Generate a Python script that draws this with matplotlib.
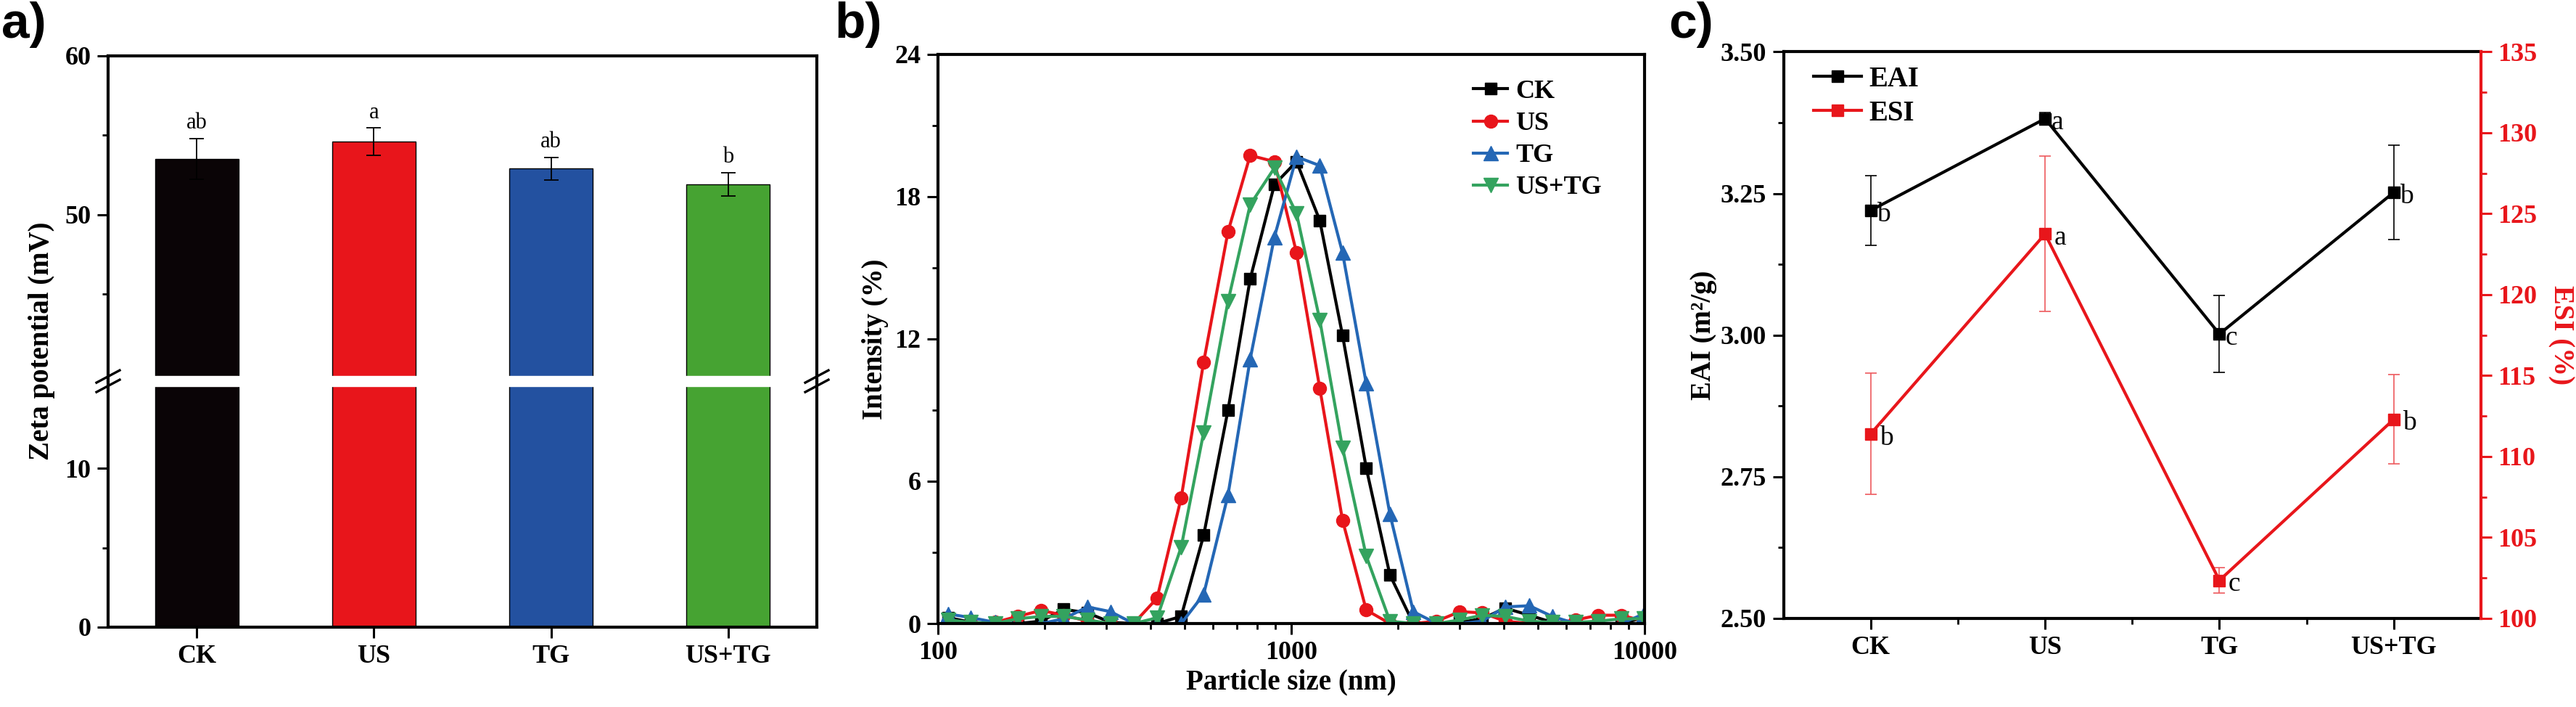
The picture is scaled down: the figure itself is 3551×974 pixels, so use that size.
"""
Zeta potential, particle size distribution and emulsifying properties (3 panels).
"""

import matplotlib
matplotlib.use("Agg")
import matplotlib.pyplot as plt
from matplotlib.lines import Line2D
from matplotlib.ticker import FixedLocator, FixedFormatter, LogLocator, NullFormatter, MultipleLocator, FormatStrFormatter

plt.rcParams["font.family"] = ["Liberation Serif", "DejaVu Serif"]
plt.rcParams["font.weight"] = "bold"
plt.rcParams["axes.labelweight"] = "bold"

groups = ["CK", "US", "TG", "US+TG"]

# a) zeta potential (mV)
zeta = [53.5, 54.6, 52.9, 51.9]
zeta_err = [1.27, 0.85, 0.7, 0.72]
zeta_sig = ["ab", "a", "ab", "b"]
bar_colors = ["#0a0406", "#e8151b", "#2351a0", "#46a332"]

# b) particle size distribution (intensity %)
size_nm = [107, 124, 145, 168, 196, 227, 265, 308, 358, 417, 488, 565, 662, 765, 896,
           1035, 1204, 1397, 1630, 1902, 2216, 2580, 3000, 3470, 4030, 4720, 5480,
           6380, 7400, 8600, 9950]
int_ck = [0.25, 0.05, 0.0, 0.0, 0.1, 0.6, 0.45, 0.05, 0.0, 0.0, 0.3, 3.72, 8.99, 14.52, 18.5,
          19.47, 16.99, 12.14, 6.56, 2.05, 0.0, 0.0, 0.05, 0.2, 0.65, 0.35, 0.05,
          0.0, 0.0, 0.0, 0.25]
int_us = [0.0, 0.0, 0.05, 0.3, 0.55, 0.35, 0.1, 0.0, 0.0, 1.07, 5.3, 11.02, 16.51, 19.73, 19.47,
          15.62, 9.92, 4.35, 0.57, 0.0, 0.0, 0.1, 0.5, 0.45, 0.1, 0.0, 0.0,
          0.15, 0.35, 0.35, 0.1]
int_tg = [0.4, 0.25, 0.05, 0.0, 0.0, 0.2, 0.7, 0.5, 0.0, 0.0, 0.0, 1.23, 5.41, 11.14, 16.29,
          19.67, 19.3, 15.62, 10.12, 4.61, 0.5, 0.0, 0.0, 0.1, 0.7, 0.75, 0.3,
          0.0, 0.0, 0.0, 0.4]
int_ustg = [0.15, 0.05, 0.0, 0.2, 0.3, 0.3, 0.15, 0.0, 0.0, 0.24, 3.22, 8.06, 13.57, 17.65, 19.2,
            17.28, 12.8, 7.4, 2.85, 0.1, 0.0, 0.0, 0.15, 0.35, 0.3, 0.1, 0.05,
            0.05, 0.1, 0.2, 0.2]

# c) emulsifying activity / stability
eai = [3.22, 3.382, 3.002, 3.252]
eai_err = [0.062, 0.011, 0.068, 0.083]
eai_sig = ["b", "a", "c", "b"]
esi = [111.4, 123.75, 102.35, 112.3]
esi_err = [3.75, 4.8, 0.8, 2.75]
esi_sig = ["b", "a", "c", "b"]

W, H = 3551, 974
RED = "#e8161b"
TICK = 26
LABEL = 28


def px_axes(left, top, right, bottom):
    return [left / W, 1 - bottom / H, (right - left) / W, (bottom - top) / H]


def style(ax, lw=3):
    for sp in ax.spines.values():
        sp.set_linewidth(lw)
    ax.tick_params(which="major", direction="out", length=11, width=2.2, labelsize=TICK, pad=6)
    ax.tick_params(which="minor", direction="out", length=6, width=2)


fig = plt.figure(figsize=(W / 100, H / 100), dpi=100)
x = [1, 2, 3, 4]

# ---------------- a) broken-axis bar chart ----------------
unit = (864 - 77) / 36.0
junction = 864 - 15.5 * unit
ax_lo = fig.add_axes(px_axes(149, junction, 1126, 864))
ax_hi = fig.add_axes(px_axes(149, 77, 1126, junction))

for ax in (ax_lo, ax_hi):
    ax.bar(x, zeta, 0.47, color=bar_colors, edgecolor="black", linewidth=1, zorder=1)
    ax.errorbar(x, zeta, yerr=zeta_err, fmt="none", ecolor="black", elinewidth=1.3,
                capsize=7, capthick=1.3, zorder=3)
    ax.set_xlim(0.5, 4.5)
    style(ax)

ax_lo.set_ylim(0, 15.5)
ax_hi.set_ylim(39.5, 60)
ax_lo.spines["top"].set_visible(False)
ax_hi.spines["bottom"].set_visible(False)
ax_lo.axhspan(15.5 - 0.32, 15.5, color="white", zorder=2)
ax_hi.axhspan(39.5, 39.5 + 0.32, color="white", zorder=2)

ax_lo.yaxis.set_major_locator(FixedLocator([0, 10]))
ax_lo.yaxis.set_minor_locator(FixedLocator([5]))
ax_hi.yaxis.set_major_locator(FixedLocator([50, 60]))
ax_hi.yaxis.set_minor_locator(FixedLocator([45, 55]))
ax_lo.set_xticks(x)
ax_lo.set_xticklabels(groups)
ax_hi.tick_params(axis="x", which="both", bottom=False, labelbottom=False)
for ax in (ax_lo, ax_hi):
    ax.tick_params(axis="y", which="both", right=False)
    ax.tick_params(axis="x", which="both", top=False)

for xi, v, e, s in zip(x, zeta, zeta_err, zeta_sig):
    ax_hi.annotate(s, (xi, v + e), xytext=(0, 5), textcoords="offset points",
                   ha="center", va="bottom", fontsize=22, fontweight="normal")

fig.text(58 / W, 1 - 470 / H, "Zeta potential (mV)", rotation=90, ha="center", va="center",
         fontsize=LABEL, fontweight="bold")

# break marks on both spines
jy = 1 - junction / H
for sx in (149, 1126):
    for dy in (6.5, -6.5):
        fig.add_artist(Line2D([(sx - 16) / W, (sx + 16) / W],
                              [jy + (dy - 8.5) / H, jy + (dy + 8.5) / H],
                              transform=fig.transFigure, color="black", lw=2.4))

# ---------------- b) size distribution ----------------
axb = fig.add_axes(px_axes(1293, 74.5, 2267, 859))
series = [
    (int_ck, "CK", "black", "s", 11),
    (int_us, "US", "#e8151b", "o", 13),
    (int_tg, "TG", "#2467b5", "^", 14),
    (int_ustg, "US+TG", "#34a35f", "v", 14),
]
for vals, name, col, mk, ms in series:
    axb.plot(size_nm, vals, color=col, marker=mk, ms=ms, lw=3, label=name, clip_on=True)
axb.set_xscale("log")
axb.set_xlim(100, 10000)
axb.set_ylim(0, 24)
axb.xaxis.set_major_locator(FixedLocator([100, 1000, 10000]))
axb.xaxis.set_major_formatter(FixedFormatter(["100", "1000", "10000"]))
axb.xaxis.set_minor_locator(LogLocator(base=10, subs=range(2, 10)))
axb.xaxis.set_minor_formatter(NullFormatter())
axb.yaxis.set_major_locator(MultipleLocator(6))
axb.yaxis.set_minor_locator(MultipleLocator(3))
style(axb)
axb.tick_params(which="both", top=False, right=False)
axb.set_xlabel("Particle size (nm)", fontsize=LABEL, labelpad=4)
axb.set_ylabel("Intensity (%)", fontsize=LABEL, labelpad=6)
axb.legend(loc="upper left", bbox_to_anchor=(0.758, 0.955), frameon=False,
           prop={"weight": "bold", "size": 26}, handlelength=1.3, handletextpad=0.3,
           labelspacing=0.3, borderpad=0, borderaxespad=0, numpoints=1)

# ---------------- c) EAI / ESI ----------------
axc = fig.add_axes(px_axes(2458.5, 71.4, 3420, 852))
axr = axc.twinx()
c1 = axc.errorbar(x, eai, yerr=eai_err, fmt="-s", color="black", ms=12, lw=3,
                  elinewidth=1.2, capsize=6, capthick=1.2, label="EAI")
c2 = axr.errorbar(x, esi, yerr=esi_err, fmt="-s", color=RED, ms=12, lw=3,
                  ecolor="#ee5a5e", elinewidth=1.2, capsize=6, capthick=1.2, label="ESI")
axc.set_xlim(0.5, 4.5)
axc.set_ylim(2.5, 3.5)
axr.set_ylim(100, 135)
axc.set_xticks(x)
axc.set_xticklabels(groups)
axc.xaxis.set_minor_locator(FixedLocator([1.5, 2.5, 3.5]))
axc.yaxis.set_major_locator(MultipleLocator(0.25))
axc.yaxis.set_minor_locator(MultipleLocator(0.125))
axc.yaxis.set_major_formatter(FormatStrFormatter("%.2f"))
axr.yaxis.set_major_locator(MultipleLocator(5))
axr.yaxis.set_minor_locator(MultipleLocator(2.5))
style(axc)
style(axr)
axc.tick_params(which="both", top=False, right=False)
axr.tick_params(axis="y", which="both", colors=RED)
axc.spines["right"].set_visible(False)
for side in ("left", "top", "bottom"):
    axr.spines[side].set_visible(False)
axr.spines["right"].set_color(RED)

for xi, v, s in zip(x, eai, eai_sig):
    axc.annotate(s, (xi, v), xytext=(6, -4), textcoords="offset points", ha="left",
                 va="center", fontsize=27, fontweight="normal")
for xi, v, s in zip(x, esi, esi_sig):
    axr.annotate(s, (xi, v), xytext=(9, -4), textcoords="offset points", ha="left",
                 va="center", fontsize=27, fontweight="normal")

axc.set_ylabel("EAI (m²/g)", fontsize=LABEL, labelpad=3)
axr.set_ylabel("ESI (%)", fontsize=LABEL, color=RED, rotation=270, va="bottom", labelpad=10)
axr.legend(handles=[c1[0], c2[0]], labels=["EAI", "ESI"], loc="upper left",
           bbox_to_anchor=(0.043, 0.975), frameon=False, prop={"weight": "bold", "size": 28},
           handlelength=1.7, handletextpad=0.26, labelspacing=0.25, borderpad=0,
           borderaxespad=0, numpoints=1)

# panel letters
for px, lab in ((2, "a)"), (1150, "b)"), (2300, "c)")):
    fig.text(px / W, 1 - 2 / H, lab, ha="left", va="top", fontsize=50,
             fontweight="bold", family="Liberation Sans")

fig.savefig("out.png", dpi=100, facecolor="white")
